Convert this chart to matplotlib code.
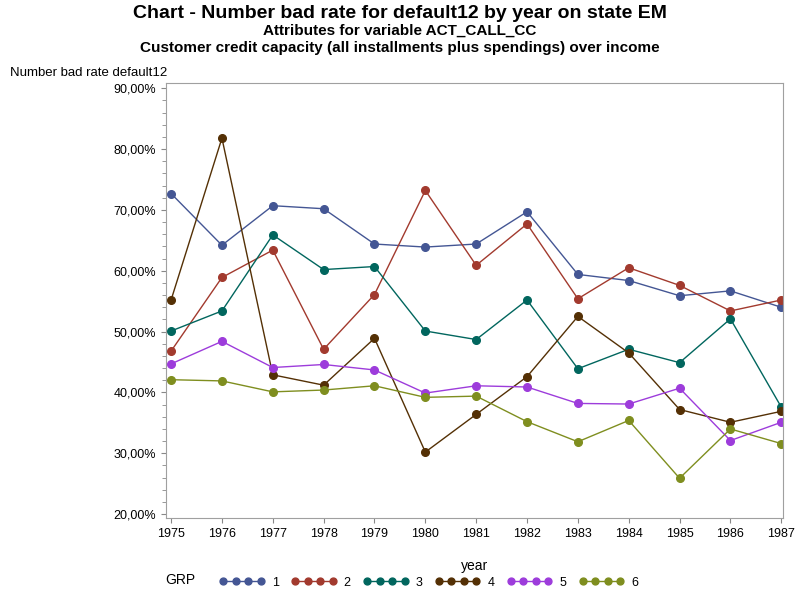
import matplotlib.pyplot as plt
from matplotlib.ticker import MultipleLocator, FuncFormatter

plt.rcParams['font.family'] = ['Liberation Sans', 'DejaVu Sans']

years = list(range(1975, 1988))
groups = ['1', '2', '3', '4', '5', '6']
grp1 = [72.7, 64.2, 70.7, 70.2, 64.4, 63.9, 64.4, 69.7, 59.4, 58.4, 55.9, 56.7, 54.0]
grp2 = [46.8, 58.9, 63.4, 47.1, 56.1, 73.2, 60.9, 67.7, 55.4, 60.5, 57.6, 53.4, 55.2]
grp3 = [50.1, 53.4, 65.9, 60.2, 60.7, 50.1, 48.7, 55.2, 43.9, 47.1, 44.9, 52.1, 37.6]
grp4 = [55.2, 81.8, 42.9, 41.2, 48.9, 30.2, 36.4, 42.6, 52.5, 46.5, 37.2, 35.1, 36.9]
grp5 = [44.7, 48.4, 44.1, 44.6, 43.7, 39.9, 41.1, 40.9, 38.2, 38.1, 40.7, 32.1, 35.1]
grp6 = [42.1, 41.9, 40.1, 40.4, 41.1, 39.2, 39.4, 35.2, 31.9, 35.4, 25.9, 34.0, 31.6]
series = [grp1, grp2, grp3, grp4, grp5, grp6]
colors = ['#445694', '#A23A2E', '#01665E', '#543005', '#9D3CDB', '#7F8E1F']

fig = plt.figure(figsize=(8, 6), dpi=100)
ax = fig.add_axes([0.2075, 0.137, 0.771, 0.725])

handles = []
for name, vals, c in zip(groups, series, colors):
    h, = ax.plot(years, vals, color=c, lw=1, marker='o', markersize=5.5, label=name)
    handles.append(h)

ax.set_xlim(1974.9, 1987.03)
ax.set_ylim(19.4, 90.9)
ax.set_xticks(years)
ax.yaxis.set_major_locator(MultipleLocator(10))
ax.yaxis.set_minor_locator(MultipleLocator(2))
ax.yaxis.set_major_formatter(FuncFormatter(lambda v, p: f"{v:.2f}%".replace('.', ',')))
ax.tick_params(labelsize=9, color='#888888')
ax.tick_params(which='minor', color='#888888', length=3)
for s in ax.spines.values():
    s.set_color('#a0a0a0')
ax.set_xlabel('year', fontsize=10, labelpad=14)

fig.text(0.012, 0.868, 'Number bad rate default12', fontsize=9.5, va='bottom')
fig.text(0.5, 0.97, 'Chart - Number bad rate for default12 by year on state EM',
         ha='center', fontsize=14, fontweight='bold')
fig.text(0.5, 0.942, 'Attributes for variable ACT_CALL_CC', ha='center', fontsize=11, fontweight='bold')
fig.text(0.5, 0.913, 'Customer credit capacity (all installments plus spendings) over income',
         ha='center', fontsize=11, fontweight='bold')

fig.text(0.206, 0.026, 'GRP', fontsize=10)
fig.legend(handles=handles, labels=groups, loc='lower left', bbox_to_anchor=(0.26, 0.0),
           ncol=6, frameon=False, numpoints=4, handlelength=3.6, markerscale=0.9,
           handletextpad=0.6, columnspacing=1.0, fontsize=9)

fig.savefig('out.png')
